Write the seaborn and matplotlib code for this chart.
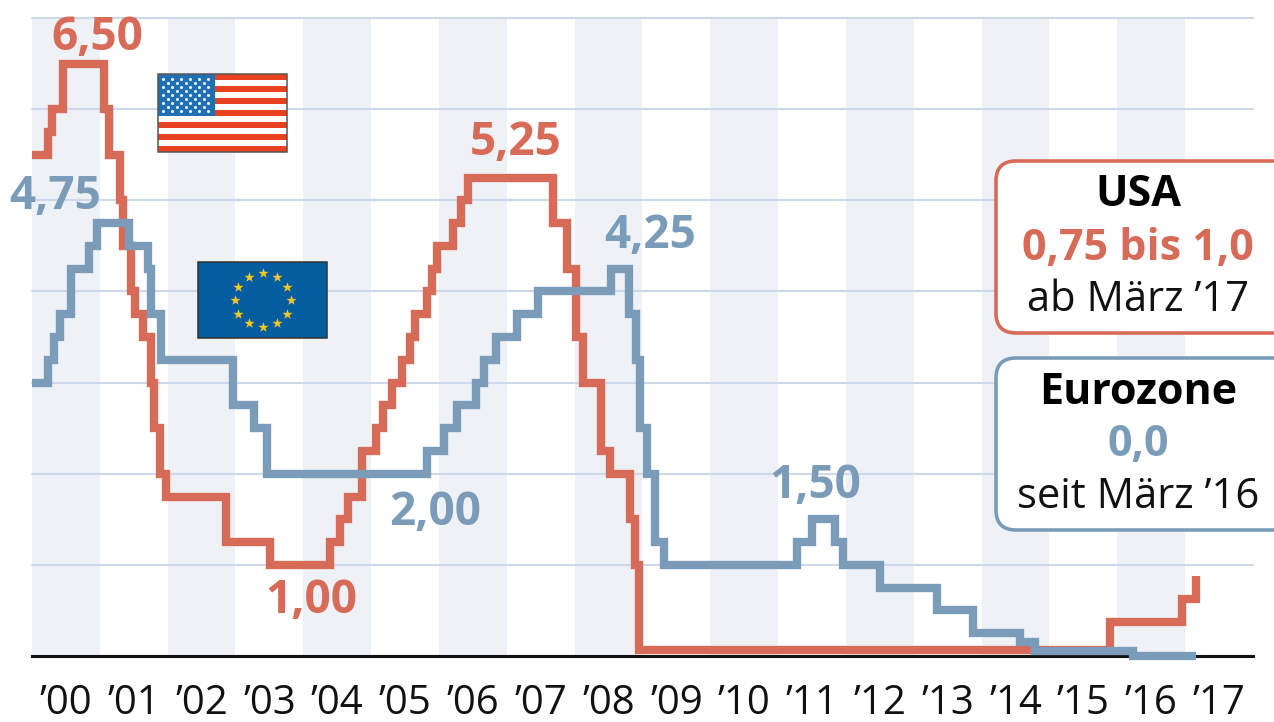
import numpy as np
import pandas as pd
import matplotlib
matplotlib.use("Agg")
import matplotlib.pyplot as plt
from matplotlib.patches import Rectangle, FancyBboxPatch
import seaborn as sns

# Key interest rates, percent, as step changes (decimal years since 2000)
usa_years = [0.00, 0.236, 0.295, 0.457, 1.061, 1.135, 1.297, 1.342, 1.460, 1.519, 1.636, 1.754,
             1.799, 1.887, 1.976, 2.860, 3.509, 4.393, 4.541, 4.659, 4.865, 5.071, 5.175, 5.307,
             5.455, 5.573, 5.646, 5.823, 5.897, 5.971, 6.207, 6.325, 6.428, 7.681, 7.887, 8.020,
             8.123, 8.389, 8.521, 8.816, 8.890, 8.949, 15.893, 16.954, 17.160]
usa_rates = [5.5, 5.75, 6.0, 6.5, 6.0, 5.5, 5.0, 4.5, 4.0, 3.75, 3.5, 3.0,
             2.5, 2.0, 1.75, 1.25, 1.0, 1.25, 1.5, 1.75, 2.25, 2.5, 2.75, 3.0,
             3.25, 3.5, 3.75, 4.0, 4.25, 4.5, 4.75, 5.0, 5.25, 4.75, 4.25, 3.5,
             3.0, 2.25, 2.0, 1.5, 1.0, 0.07, 0.375, 0.625, 0.875]

euro_years = [0.00, 0.236, 0.324, 0.413, 0.575, 0.840, 0.958, 1.430, 1.710, 1.754, 1.902, 2.963,
              3.273, 3.465, 5.823, 6.074, 6.266, 6.546, 6.664, 6.841, 7.150, 7.460, 8.536, 8.801,
              8.905, 8.964, 9.067, 9.185, 9.317, 11.278, 11.499, 11.838, 11.956, 12.502, 13.342,
              13.873, 14.566, 14.787, 16.232, 17.160]
euro_rates = [3.0, 3.25, 3.5, 3.75, 4.25, 4.5, 4.75, 4.5, 4.25, 3.75, 3.25, 2.75,
              2.5, 2.0, 2.25, 2.5, 2.75, 3.0, 3.25, 3.5, 3.75, 4.0, 4.25, 3.75,
              3.25, 2.5, 2.0, 1.25, 1.0, 1.25, 1.5, 1.25, 1.0, 0.75, 0.5,
              0.25, 0.15, 0.05, 0.0, 0.0]

year_labels = ["’00", "’01", "’02", "’03", "’04", "’05", "’06", "’07", "’08",
               "’09", "’10", "’11", "’12", "’13", "’14", "’15", "’16", "’17"]
grid_levels = [1, 2, 3, 4, 5, 6, 7]

usa_callouts = [("6,50", 6.5, 0.97, 26), ("5,25", 5.25, 7.13, 35), ("1,00", 1.0, 4.11, -36)]
euro_callouts = [("4,75", 4.75, 0.34, 27), ("4,25", 4.25, 9.11, 33),
                 ("2,00", 2.0, 5.94, -39), ("1,50", 1.5, 11.54, 34)]

RED = "#d86a58"
BLUE = "#7b9cb8"
BAND = "#eef1f6"
GRID = "#cdd9ea"

sns.set_theme(style="white")
plt.rcParams["font.family"] = ["Open Sans", "DejaVu Sans"]

W, H = 1274, 722
fig = plt.figure(figsize=(W / 100, H / 100), dpi=100, facecolor="white")
ax = fig.add_axes([32 / W, 1 - 656 / H, (1253 - 32) / W, (656 - 18) / H])
ax.set_xlim(2000, 2018)
ax.set_ylim(0, 7)

# Alternating year bands and horizontal rate grid
for start in range(2000, 2018, 2):
    ax.axvspan(start, start + 1, color=BAND, lw=0, zorder=0)
for level in grid_levels:
    ax.axhline(level, color=GRID, lw=1.5, zorder=1, clip_on=False)

usa = pd.DataFrame({"year": 2000 + np.array(usa_years), "rate": usa_rates})
euro = pd.DataFrame({"year": 2000 + np.array(euro_years), "rate": euro_rates})
line_style = dict(drawstyle="steps-post", estimator=None, sort=False, lw=6,
                  solid_joinstyle="miter", solid_capstyle="butt", clip_on=False, legend=False)
sns.lineplot(data=usa, x="year", y="rate", color=RED, ax=ax, zorder=3, **line_style)
sns.lineplot(data=euro, x="year", y="rate", color=BLUE, ax=ax, zorder=4, **line_style)

sns.despine(ax=ax, left=True, top=True, right=True)
ax.spines["bottom"].set_color("#111111")
ax.spines["bottom"].set_linewidth(2.2)
ax.spines["bottom"].set_zorder(2)
ax.set_xlabel("")
ax.set_ylabel("")
ax.set_yticks([])
ax.set_xticks(np.arange(2000.5, 2018, 1))
ax.set_xticklabels(year_labels, fontsize=29, color="#111111")
ax.tick_params(axis="x", length=0, pad=20)

# Rate labels at turning points
for callouts, colour in ((usa_callouts, RED), (euro_callouts, BLUE)):
    for text, value, year, offset in callouts:
        ax.annotate(text, xy=(2000 + year, value), xytext=(0, offset), textcoords="offset pixels",
                    ha="center", va="center", fontsize=33, fontweight="bold", color=colour,
                    zorder=5, annotation_clip=False)

# Pixel-based overlay for flags and info boxes
ov = fig.add_axes([0, 0, 1, 1], facecolor="none")
ov.set_xlim(0, W)
ov.set_ylim(H, 0)
ov.axis("off")

# US flag
fx, fy, fw, fh = 158, 74, 129, 78
ov.add_patch(Rectangle((fx, fy), fw, fh, fc="white", ec="none", zorder=5))
stripe = fh / 13
for i in range(0, 13, 2):
    ov.add_patch(Rectangle((fx, fy + i * stripe), fw, stripe * 0.95, fc="#ea4220", ec="none", zorder=5))
ov.add_patch(Rectangle((fx, fy), 57, stripe * 7, fc="#1f6fb2", ec="none", zorder=6))
for row in range(9):
    n = 6 if row % 2 == 0 else 5
    shift = 0 if row % 2 == 0 else 4.5
    xs = fx + 5 + shift + 9 * np.arange(n)
    ov.scatter(xs, np.full(n, fy + 4.5 + row * 4.1), s=5, c="#e8f0f8", lw=0, zorder=7)
ov.add_patch(Rectangle((fx, fy), fw, fh, fc="none", ec="#555555", lw=1.1, zorder=8))

# EU flag
ex, ey, ew, eh = 198, 262, 129, 76
ov.add_patch(Rectangle((ex, ey), ew, eh, fc="#045d9f", ec="#333333", lw=1.1, zorder=5))
angles = np.deg2rad(np.arange(0, 360, 30))
ov.scatter(ex + ew / 2 + 28 * np.cos(angles), ey + eh / 2 + 27 * np.sin(angles),
           marker="*", s=60, c="#f5c822", lw=0, zorder=6)

# Info boxes for the current rates
for top, bottom, colour in ((161, 333, RED), (358, 530, BLUE)):
    ov.add_patch(FancyBboxPatch((996 + 18, top + 18), 320, bottom - top - 36,
                                boxstyle="round,pad=18,rounding_size=20",
                                fc="white", ec=colour, lw=2.6, zorder=5, clip_on=True))
box_lines = [("USA", 195, "bold", "#000000", 31), ("0,75 bis 1,0", 248, "bold", RED, 31),
             ("ab März ’17", 300, "normal", "#111111", 30), ("Eurozone", 392, "bold", "#000000", 31),
             ("0,0", 445, "bold", BLUE, 31), ("seit März ’16", 497, "normal", "#111111", 30)]
for text, y, weight, colour, size in box_lines:
    ov.text(1138, y, text, ha="center", va="center", fontsize=size, fontweight=weight,
            color=colour, zorder=6)

fig.savefig("out.png", dpi=100)
